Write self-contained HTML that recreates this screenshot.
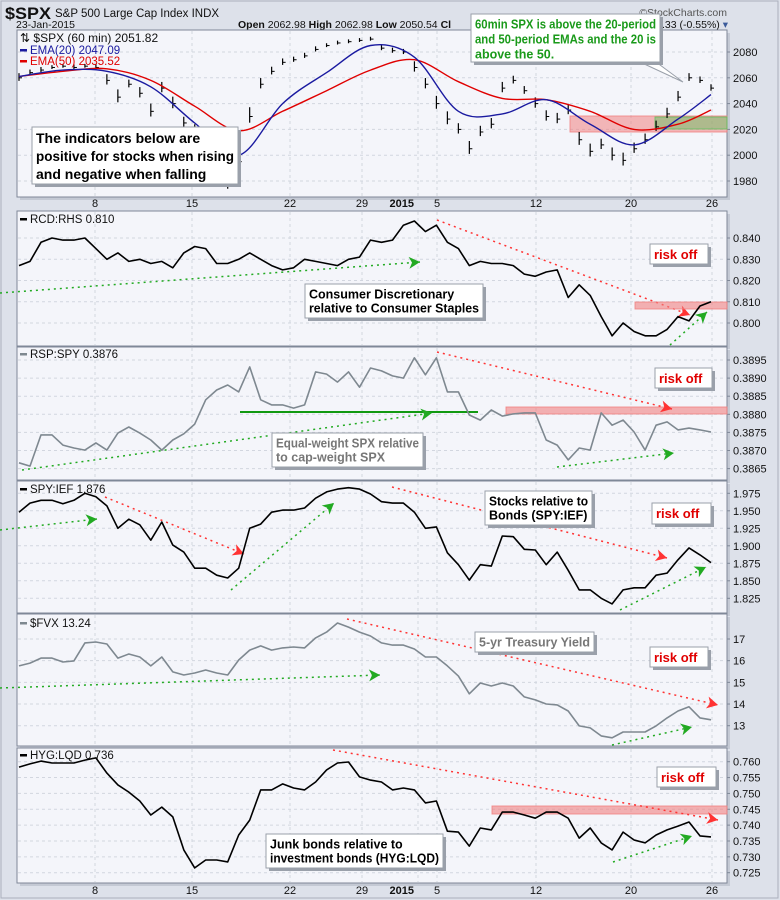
<!DOCTYPE html>
<html><head><meta charset="utf-8"><style>
body{margin:0;background:#dde1ea;font-family:"Liberation Sans",sans-serif;}
#wrap{position:relative;width:780px;height:900px;overflow:hidden;background:#dde1ea;}
.nb{font-family:"Liberation Sans Narrow","Liberation Sans",sans-serif;font-weight:bold;}
</style></head><body>
<div id="wrap">
<svg id="svg" width="780" height="900" xmlns="http://www.w3.org/2000/svg">
<rect x="1" y="1" width="777" height="897" fill="#dde1ea" stroke="#aab0bc"/>
<text x="5" y="19" font-size="17" font-weight="bold" fill="#111" textLength="46" lengthAdjust="spacingAndGlyphs">$SPX</text>
<text x="55" y="17" font-size="11.5" fill="#111">S&amp;P 500 Large Cap Index  INDX</text>
<text x="16" y="28" font-size="10.5" fill="#111">23-Jan-2015</text>
<text x="238" y="28" font-size="10.5" fill="#111"><tspan font-weight="bold">Open</tspan> 2062.98 <tspan font-weight="bold">High</tspan> 2062.98 <tspan font-weight="bold">Low</tspan> 2050.54 <tspan font-weight="bold">Cl</tspan></text>
<text x="662" y="28" font-size="10.5" fill="#111">.33 (-0.55%) <tspan fill="#3a5a9a">▾</tspan></text>
<text x="727" y="16" font-size="10.5" fill="#555" text-anchor="end">©StockCharts.com</text>
<g id="g"></g>
</svg>
</div>
<script>
const xLabels=["8","15","22","29","5","12","20","26"];
const spxClose=[2060,2064,2066,2068,2069,2068,2069,2068,2058,2045,2055,2048,2034,2052,2040,2025,2018,2005,1990,1978,1995,2030,2055,2065,2072,2074,2077,2082,2085,2087,2088,2089,2090,2083,2081,2080,2068,2055,2040,2028,2020,2005,2018,2024,2052,2058,2050,2040,2030,2028,2035,2012,2003,2008,2000,1996,2005,2012,2022,2032,2045,2060,2058,2052];
const spxSpread=[6,4,4,3,3,4,3,4,8,10,6,8,10,8,9,8,10,10,12,10,10,12,8,6,5,4,4,4,3,3,3,3,3,4,4,4,8,8,10,10,8,10,8,8,8,6,6,8,8,8,8,10,10,8,10,10,8,8,8,8,8,6,5,5];
const ema20=[2061,2066,2065,2053,2025,2000,2040,2064,2085,2076,2034,2032,2043,2024,2008,2028,2047];
const ema50=[2061,2065,2067,2058,2038,2019,2034,2050,2066,2074,2057,2044,2043,2034,2020,2024,2035];
const emaIdx=[0,4,8,12,16,20,24,28,32,36,40,44,48,52,56,60,63];
const rcd=[0.827,0.829,0.838,0.840,0.839,0.839,0.840,0.835,0.830,0.833,0.829,0.830,0.828,0.829,0.826,0.833,0.836,0.835,0.828,0.828,0.830,0.833,0.830,0.827,0.825,0.826,0.830,0.829,0.828,0.827,0.830,0.831,0.839,0.838,0.839,0.846,0.848,0.843,0.846,0.838,0.835,0.827,0.829,0.828,0.828,0.827,0.823,0.822,0.824,0.825,0.812,0.818,0.813,0.803,0.794,0.800,0.796,0.794,0.794,0.797,0.803,0.801,0.808,0.810];
const rsp=[0.38666,0.38657,0.38743,0.38743,0.38715,0.38707,0.38701,0.38721,0.38701,0.38748,0.38765,0.38748,0.38729,0.38701,0.38729,0.38746,0.38773,0.38840,0.38867,0.38881,0.38862,0.38931,0.38840,0.38826,0.38826,0.38817,0.38826,0.38917,0.38911,0.38889,0.38917,0.38875,0.38928,0.38920,0.38906,0.38900,0.38956,0.38909,0.38956,0.38862,0.38862,0.38798,0.38784,0.38812,0.38795,0.38801,0.38804,0.38804,0.38729,0.38715,0.38674,0.38707,0.38701,0.38804,0.38770,0.38784,0.38751,0.38701,0.38770,0.38779,0.38757,0.38762,0.38757,0.38751];
const spy=[1.948,1.961,1.965,1.965,1.960,1.965,1.975,1.970,1.957,1.925,1.938,1.930,1.908,1.934,1.901,1.891,1.868,1.868,1.858,1.854,1.868,1.925,1.931,1.948,1.951,1.951,1.954,1.968,1.977,1.981,1.983,1.981,1.974,1.963,1.961,1.961,1.948,1.925,1.927,1.890,1.873,1.851,1.873,1.871,1.914,1.913,1.895,1.894,1.873,1.891,1.865,1.837,1.837,1.825,1.817,1.837,1.840,1.840,1.858,1.861,1.880,1.897,1.887,1.876];
const fvx=[15.76,15.89,16.12,16.12,15.94,15.99,16.82,16.86,16.77,16.12,16.31,16.17,15.76,16.17,15.48,15.34,15.43,15.57,15.43,15.34,16.03,16.49,16.68,16.49,16.59,16.63,16.59,17.05,17.32,17.74,17.55,17.32,17.14,16.82,16.72,16.72,16.54,16.17,16.17,15.76,15.29,14.47,14.97,14.83,14.97,14.83,14.33,14.19,14.00,13.96,13.68,12.99,12.90,12.53,12.44,12.71,12.71,12.71,12.99,13.36,13.68,13.87,13.36,13.27];
const hyg=[0.7583,0.7593,0.7602,0.7596,0.7596,0.7596,0.7605,0.7612,0.7564,0.7527,0.7504,0.7476,0.7432,0.7457,0.7426,0.7322,0.7265,0.7290,0.7290,0.7284,0.7369,0.7416,0.7511,0.7511,0.7530,0.7517,0.7511,0.7536,0.7574,0.7596,0.7599,0.7552,0.7542,0.7536,0.7511,0.7517,0.7511,0.7470,0.7476,0.7381,0.7378,0.7334,0.7391,0.7385,0.7441,0.7441,0.7432,0.7422,0.7441,0.7441,0.7422,0.7359,0.7391,0.7344,0.7322,0.7378,0.7353,0.7344,0.7369,0.7385,0.7397,0.7410,0.7366,0.7363];
const spxTicks=[2080,2060,2040,2020,2000,1980];
const rcdTicks=[0.840,0.830,0.820,0.810,0.800];
const rspTicks=[0.3895,0.3890,0.3885,0.3880,0.3875,0.3870,0.3865];
const spyTicks=[1.975,1.950,1.925,1.900,1.875,1.850,1.825];
const fvxTicks=[17,16,15,14,13];
const hygTicks=[0.760,0.755,0.750,0.745,0.740,0.735,0.730,0.725];

const NS="http://www.w3.org/2000/svg";
const G=document.getElementById('g');
const X0=17,X1=727,N=spxClose.length;
const gridX=[95,192,290,362,437,536,631,712];
function xOf(i){return 19+i*(692/(N-1));}
function mk(tag,at,parent){const e=document.createElementNS(NS,tag);for(const k in at)e.setAttribute(k,at[k]);(parent||G).appendChild(e);return e;}
function yScale(v0,y0,v1,y1){return v=>y0+(v-v0)*(y1-y0)/(v1-v0);}

function panel(name,top,bot,ticks,ys,fmt){
  const sh=mk('rect',{x:X0+3,y:top+3,width:X1-X0,height:bot-top,fill:'#c4c9d4'});
  
  
  const r=mk('rect',{x:X0,y:top,width:X1-X0,height:bot-top,fill:'#f4f5fa',stroke:'#7f8898','stroke-width':1});
  
  
  gridX.forEach(gx=>{const l=mk('line',{x1:gx,x2:gx,y1:top+1,y2:bot-1,stroke:'#d2d6df','stroke-dasharray':'3,3'});
    
    });
  const l2=mk('line',{x1:418,x2:418,y1:top+1,y2:bot-1,stroke:'#d2d6df','stroke-dasharray':'3,3'});
  
  
  ticks.forEach(t=>{const y=ys(t);
    const l=mk('line',{x1:X0+1,x2:X1-1,y1:y,y2:y,stroke:'#d2d6df','stroke-dasharray':'3,3'});
    
    
    const tk=mk('line',{x1:X1,x2:X1+3,y1:y,y2:y,stroke:'#7f8898'});
    
    
    const tx=mk('text',{x:X1+6,y:y+4,'font-size':11,fill:'#111'});tx.textContent=fmt(t);
    
    });
}
function line(name,arr,ys,color,w){
  const d=arr.map((v,i)=>(i?'L':'M')+xOf(i).toFixed(1)+','+ys(v).toFixed(1)).join('');
  const p=mk('path',{d:d,fill:'none',stroke:color,'stroke-width':w,'stroke-linejoin':'round'});
  
  
}
function legend(name,x,y,txt,color,col2){
  const r=mk('rect',{x:x,y:y-5,width:7,height:2.5,fill:color});
  
  
  const t=mk('text',{x:x+10,y:y,'font-size':11.5,fill:col2||'#111'});t.textContent=txt;
  
  
}
function dotted(name,x1,y1,x2,y2,color){
  const l=mk('line',{x1:x1,y1:y1,x2:x2,y2:y2,stroke:color,'stroke-width':1.5,'stroke-dasharray':'2,4'});
  
  
  const a=Math.atan2(y2-y1,x2-x1),L=11,W=6;
  const bx=x2-L*Math.cos(a),by=y2-L*Math.sin(a);
  const pts=[[x2,y2],[bx+W*Math.sin(a),by-W*Math.cos(a)],[bx+3*Math.cos(a),by+3*Math.sin(a)],[bx-W*Math.sin(a),by+W*Math.cos(a)]];
  const p=mk('polygon',{points:pts.map(q=>q.join(',')).join(' '),fill:color});
  
  
}
function box(name,x,y,w,h,lines,color,size,gap){
  const s=mk('rect',{x:x+3,y:y+3,width:w,height:h,fill:'#9aa0aa'});
  
  
  const r=mk('rect',{x:x,y:y,width:w,height:h,fill:'#fff',stroke:'#9aa0aa'});
  
  
  const lh=gap||(size+5);
  lines.forEach((t,k)=>{const tx=mk('text',{x:x+4,y:y+size+2+k*lh,'font-size':size,fill:color,'class':'nb'});tx.textContent=t;
    
    
    const len=tx.getComputedTextLength();
    if(len>w-8){tx.setAttribute('textLength',w-8);tx.setAttribute('lengthAdjust','spacingAndGlyphs');}});
}
function rect(name,x,y,w,h,fill,op){
  const r=mk('rect',{x:x,y:y,width:w,height:h,fill:fill,'fill-opacity':op,stroke:fill,'stroke-opacity':0.8});
  
  
}
function xAxis(name,y){
  xLabels.forEach((t,k)=>{const tx=mk('text',{x:gridX[k],y:y,'font-size':11,fill:'#111','text-anchor':'middle'});tx.textContent=t;
    
    });
  const yr=mk('text',{x:414,y:y,'font-size':11,'font-weight':'bold',fill:'#111','text-anchor':'end'});yr.textContent='2015';
  
  
}

// Panel 1: SPX
const y1=yScale(2080,52,1980,181);
panel('spx',30,197,spxTicks,y1,v=>v);
rect('spx-resistance-zone',570,116,157,16,'#f08080',0.55);
rect('spx-support-zone',655,117,72,12,'#5cc05c',0.45);
spxClose.forEach((c,i)=>{const x=xOf(i);
  const b=mk('line',{x1:x,x2:x,y1:y1(c+spxSpread[i]*0.6),y2:y1(c-spxSpread[i]*0.4),stroke:'#000','stroke-width':1.2});
  
  
  const t=mk('line',{x1:x,x2:x+3,y1:y1(c),y2:y1(c),stroke:'#000','stroke-width':1});
  
  });
function emaLine(name,arr,color){
  const pts=arr.map((v,k)=>[xOf(emaIdx[k]),y1(v)]);
  let d='M'+pts[0][0].toFixed(1)+','+pts[0][1].toFixed(1);
  for(let k=0;k<pts.length-1;k++){
    const p0=pts[k-1]||pts[k],p1=pts[k],p2=pts[k+1],p3=pts[k+2]||p2;
    const c1=[p1[0]+(p2[0]-p0[0])/6,p1[1]+(p2[1]-p0[1])/6],c2=[p2[0]-(p3[0]-p1[0])/6,p2[1]-(p3[1]-p1[1])/6];
    d+='C'+c1.map(n=>n.toFixed(1)).join(',')+' '+c2.map(n=>n.toFixed(1)).join(',')+' '+p2.map(n=>n.toFixed(1)).join(',');
  }
  const p=mk('path',{d:d,fill:'none',stroke:color,'stroke-width':1.4,'stroke-linejoin':'round'});
  
  
}
emaLine('ema50-line',ema50,'#e00000');
emaLine('ema20-line',ema20,'#1a1aa0');
const lt=mk('text',{x:20,y:42,'font-size':12,fill:'#111'});lt.textContent='⇅ $SPX (60 min) 2051.82';


legend('ema20-legend',20,54,'EMA(20) 2047.09','#1a1aa0','#1a1aa0');
legend('ema50-legend',20,65,'EMA(50) 2035.52','#e00000','#e00000');
box('indicator-note',32,127,206,57,['The indicators below are','positive for stocks when rising','and negative when falling'],'#000',14,18);
const cp=mk('polygon',{points:'640,62 656,62 683,82',fill:'#fff',stroke:'#9aa0aa'});


box('ema-note',471,14,189,48,['60min SPX is above the 20-period','and 50-period EMAs and the 20 is','above the 50.'],'#1a9a1a',12.5,15);
xAxis('top-x-axis',207);

// Panel 2: RCD:RHS
const y2=yScale(0.840,238,0.800,323);
panel('rcd',211,346,rcdTicks,y2,v=>v.toFixed(3));
dotted('rcd-uptrend',0,293,420,262,'#22aa22');
dotted('rcd-downtrend',437,220,690,315,'#ff3333');
rect('rcd-resistance-zone',635,302,92,7,'#f08080',0.6);
line('rcd-line',rcd,y2,'#000',1.6);
dotted('rcd-short-uptrend',670,345,707,312,'#22aa22');
legend('rcd-legend',20,223,'RCD:RHS 0.810','#000');
box('rcd-note',305,284,178,34,['Consumer Discretionary','relative to Consumer Staples'],'#000',12.5,14);
box('rcd-risk-off',650,244,58,20,['risk off'],'#e00000',13);

// Panel 3: RSP:SPY
const y3=yScale(0.3895,360,0.3865,468.6);
panel('rsp',347,480,rspTicks,y3,v=>v.toFixed(4));
rect('rsp-resistance-zone',506,407,221,7,'#f08080',0.6);
const sl=mk('line',{x1:240,x2:478,y1:412,y2:412,stroke:'#119911','stroke-width':2});


dotted('rsp-uptrend',22,470,432,413,'#22aa22');
dotted('rsp-downtrend',437,352,672,409,'#ff3333');
line('rsp-line',rsp,y3,'#7e8890',1.6);
dotted('rsp-short-uptrend',557,467,674,453,'#22aa22');
legend('rsp-legend',20,358,'RSP:SPY 0.3876','#7e8890');
box('rsp-note',272,433,151,34,['Equal-weight SPX relative','to cap-weight SPX'],'#777',12.5,14);
box('rsp-risk-off',655,368,57,20,['risk off'],'#e00000',13);

// Panel 4: SPY:IEF
const y4=yScale(1.975,493.3,1.825,598.3);
panel('spy',481,613,spyTicks,y4,v=>v.toFixed(3));
dotted('spy-uptrend-1',0,530,97,519,'#22aa22');
dotted('spy-downtrend-1',105,497,244,554,'#ff3333');
dotted('spy-uptrend-2',231,590,334,503,'#22aa22');
dotted('spy-downtrend-2',392,487,667,558,'#ff3333');
line('spy-line',spy,y4,'#000',1.6);
dotted('spy-uptrend-3',620,610,706,567,'#22aa22');
legend('spy-legend',20,493,'SPY:IEF 1.876','#000');
box('spy-note',485,491,107,34,['Stocks relative to','Bonds (SPY:IEF)'],'#000',12.5,14);
box('spy-risk-off',652,503,59,21,['risk off'],'#e00000',13);

// Panel 5: $FVX
const y5=yScale(17,639,13,725.7);
panel('fvx',614,746,fvxTicks,y5,v=>v);
dotted('fvx-uptrend',0,688,380,675,'#22aa22');
dotted('fvx-downtrend',347,619,718,705,'#ff3333');
line('fvx-line',fvx,y5,'#7e8890',1.6);
dotted('fvx-short-uptrend',612,745,692,727,'#22aa22');
legend('fvx-legend',20,627,'$FVX 13.24','#7e8890');
box('fvx-note',475,632,119,20,['5-yr Treasury Yield'],'#777',12.5);
box('fvx-risk-off',650,647,58,20,['risk off'],'#e00000',13);

// Panel 6: HYG:LQD
const y6=yScale(0.760,761.7,0.725,872.7);
panel('hyg',748,883,hygTicks,y6,v=>v.toFixed(3));
rect('hyg-resistance-zone',492,806,235,8,'#f08080',0.6);
dotted('hyg-downtrend',333,750,718,820,'#ff3333');
line('hyg-line',hyg,y6,'#000',1.6);
dotted('hyg-short-uptrend',613,862,692,836,'#22aa22');
legend('hyg-legend',20,759,'HYG:LQD 0.736','#000');
box('hyg-note',266,834,177,34,['Junk bonds relative to','investment bonds (HYG:LQD)'],'#000',12.5,14);
box('hyg-risk-off',657,767,59,20,['risk off'],'#e00000',13);
xAxis('bottom-x-axis',894);
</script>
</body></html>
